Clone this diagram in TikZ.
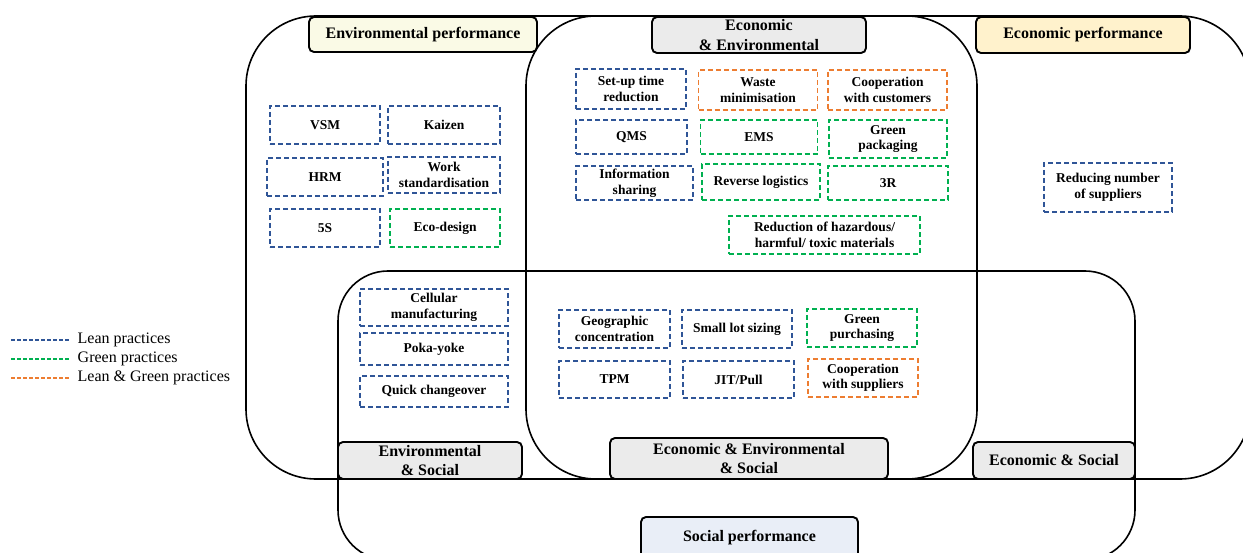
\documentclass[tikz,border=0pt]{standalone}
\usepackage{fontspec}
\setmainfont{Liberation Serif}
\definecolor{leanblue}{HTML}{2F5597}
\definecolor{greenpr}{HTML}{00B050}
\definecolor{bothpr}{HTML}{ED7D31}
\definecolor{headgray}{HTML}{EBEBEB}
\definecolor{envfill}{HTML}{FAFAE6}
\definecolor{econfill}{HTML}{FFF2CC}
\definecolor{socfill}{HTML}{E9EEF7}

\begin{document}
\begin{tikzpicture}[x=1pt, y=-1pt,
  region/.style={line width=1.6pt},
  header/.style={draw, line width=1.9pt, rounded corners=5pt, fill=headgray,
    align=center, inner sep=0pt, font=\bfseries\fontsize{16}{19.5}\selectfont},
  practice/.style={draw, line width=1.5pt, dash pattern=on 5pt off 3pt,
    align=center, inner sep=0pt, font=\bfseries\fontsize{13.5}{15.5}\selectfont},
  leanbox/.style={practice, draw=leanblue},
  greenbox/.style={practice, draw=greenpr},
  bothbox/.style={practice, draw=bothpr},
  boxsize/.style 2 args={minimum width=#1pt, minimum height=#2pt},
  legendline/.style={line width=1.8pt, dash pattern=on 4pt off 2pt},
  legendtext/.style={anchor=west, inner sep=0pt, font=\fontsize{16}{19}\selectfont}]

\useasboundingbox (0,0) rectangle (1243,553);
\clip (0,0) rectangle (1243,553);

% performance regions
\draw[region, rounded corners=70pt] (246,16) rectangle (977,479);
\draw[region, rounded corners=70pt] (526,16) rectangle (1250,479);
\draw[region, rounded corners=50pt] (338,271) rectangle (1135,560);

% region titles
\node[header, fill=envfill, boxsize={228}{35}] (envperf) at (423,34.5) {Environmental performance};
\node[header, boxsize={214}{36}] (econenv) at (759,35) {Economic\\\& Environmental};
\node[header, fill=econfill, boxsize={214}{36}] (econperf) at (1083,35) {Economic performance};
\node[header, boxsize={184}{37}] (envsoc) at (430,460.5) {Environmental\\\& Social};
\node[header, boxsize={278}{41}] (all) at (749,458.5) {Economic \& Environmental\\\& Social};
\node[header, boxsize={162}{37}] (econsoc) at (1054,460.5) {Economic \& Social};
\node[header, fill=socfill, boxsize={217}{42}] (socperf) at (749.5,538) {Social performance};

% environmental only
\node[leanbox, boxsize={110}{38}] (vsm) at (325,125) {VSM};
\node[leanbox, boxsize={112}{38}] (kaizen) at (444,125) {Kaizen};
\node[leanbox, boxsize={116}{38}] (hrm) at (325,177) {HRM};
\node[leanbox, boxsize={112}{36}] (work) at (444,175) {Work\\standardisation};
\node[leanbox, boxsize={110}{38}] (fiveS) at (325,228) {5S};
\node[greenbox, boxsize={110}{38}] (ecodesign) at (445,228) {Eco-design};

% economic and environmental
\node[leanbox, boxsize={110}{40}] (setup) at (631,89) {Set-up time\\reduction};
\node[bothbox, boxsize={119}{40}] (waste) at (758,90) {Waste\\minimisation};
\node[bothbox, boxsize={119}{40}] (coopcust) at (887.5,90) {Cooperation\\with customers};
\node[leanbox, boxsize={111}{34}] (qms) at (631.5,137) {QMS};
\node[greenbox, boxsize={117}{34}] (ems) at (759,137) {EMS};
\node[greenbox, boxsize={118}{38}] (greenpack) at (888,139) {Green\\packaging};
\node[leanbox, boxsize={117}{34}] (infoshare) at (634.5,183) {Information\\sharing};
\node[greenbox, boxsize={118}{36}] (revlog) at (761,182) {Reverse logistics};
\node[greenbox, boxsize={120}{34}] (threeR) at (888,183) {3R};
\node[greenbox, boxsize={191}{38}] (hazard) at (824.5,235) {Reduction of hazardous/\\harmful/ toxic materials};

% economic only
\node[leanbox, boxsize={128}{49}] (fewsupp) at (1108,187.5) {Reducing number\\of suppliers};

% environmental and social
\node[leanbox, boxsize={148}{37}] (cellular) at (434,307.5) {Cellular\\manufacturing};
\node[leanbox, boxsize={148}{32}] (pokayoke) at (434,349) {Poka-yoke};
\node[leanbox, boxsize={148}{31}] (quickchg) at (434,391.5) {Quick changeover};

% economic, environmental and social
\node[leanbox, boxsize={111}{38}] (geo) at (614.5,329) {Geographic\\concentration};
\node[leanbox, boxsize={110}{38}] (smalllot) at (737,329) {Small lot sizing};
\node[greenbox, boxsize={110}{38}] (greenpurch) at (862,328) {Green\\purchasing};
\node[leanbox, boxsize={111}{37}] (tpm) at (614.5,379.5) {TPM};
\node[leanbox, boxsize={111}{37}] (jit) at (738.5,379.5) {JIT/Pull};
\node[bothbox, boxsize={110}{38}] (coopsupp) at (863,378) {Cooperation\\with suppliers};

% legend
\coordinate (leanA) at (11,340);
\coordinate (leanB) at (69,340);
\coordinate (greenA) at (11,359);
\coordinate (greenB) at (69,359);
\coordinate (bothA) at (11,378);
\coordinate (bothB) at (69,378);
\draw[legendline, leanblue] (leanA) -- (leanB);
\draw[legendline, greenpr] (greenA) -- (greenB);
\draw[legendline, bothpr] (bothA) -- (bothB);
\node[legendtext] (leantext) at (77.5,340) {Lean practices};
\node[legendtext] (greentext) at (77.5,359) {Green practices};
\node[legendtext] (bothtext) at (77.5,378) {Lean \& Green practices};

\end{tikzpicture}
\end{document}
